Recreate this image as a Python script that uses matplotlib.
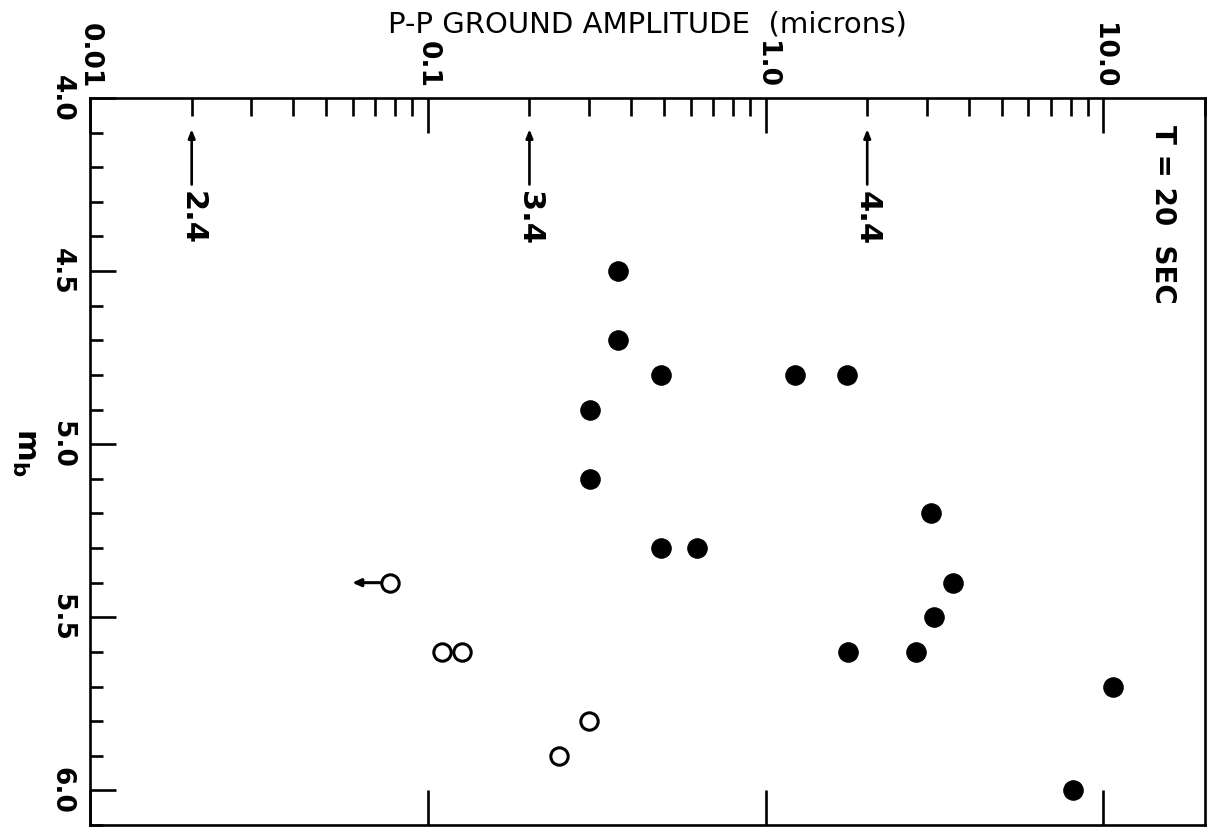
import matplotlib
matplotlib.use("Agg")
import matplotlib.pyplot as plt
from matplotlib.ticker import FixedLocator, LogLocator, MultipleLocator, NullFormatter

# ---- data ----
filled_mb = [4.5, 4.7, 4.8, 4.8, 4.8, 4.9, 5.1, 5.2, 5.3, 5.3, 5.4, 5.5, 5.6, 5.6, 5.7, 6.0]
filled_amp = [0.365, 0.365, 0.49, 1.22, 1.74, 0.303, 0.303, 3.08, 0.49, 0.625, 3.58, 3.15, 1.75, 2.78, 10.7, 8.13]

open_mb = [5.4, 5.6, 5.6, 5.8, 5.9]
open_amp = [0.0774, 0.110, 0.126, 0.301, 0.245]

# upper-limit arrow on the open circle at mb 5.4
limit_mb = 5.4
limit_from = 0.0774
limit_to = 0.0597

# reference arrows along the top axis
ref_amp = [0.02, 0.2, 2.0]
ref_labels = ["2.4", "3.4", "4.4"]

x_ticks = [0.01, 0.1, 1.0, 10.0]
x_ticklabels = ["0.01", "0.1", "1.0", "10.0"]
y_ticks = [4.0, 4.5, 5.0, 5.5, 6.0]
y_ticklabels = ["4.0", "4.5", "5.0", "5.5", "6.0"]

plt.rcParams["font.family"] = ["DejaVu Sans"]
plt.rcParams["mathtext.fontset"] = "dejavusans"

W, H = 1211, 830
fig = plt.figure(figsize=(W / 100, H / 100), dpi=100)
ax = fig.add_axes([90 / W, 5 / H, 1115 / W, 727 / H])

ax.set_xscale("log")
ax.set_xlim(0.01, 20)
ax.set_ylim(6.1, 4.0)

for s in ax.spines.values():
    s.set_linewidth(1.9)
    s.set_color("black")

# points
ax.plot(filled_amp, filled_mb, linestyle="none", marker="o", ms=14,
        mfc="black", mec="black", mew=0.8, zorder=3)
ax.plot(open_amp, open_mb, linestyle="none", marker="o", ms=12.5,
        mfc="white", mec="black", mew=2.2, zorder=3)

# upper limit arrow
ax.annotate("", xy=(limit_to, limit_mb), xytext=(limit_from, limit_mb),
            arrowprops=dict(arrowstyle="-|>,head_length=0.5,head_width=0.22",
                            color="black", lw=2.2, shrinkA=7, shrinkB=0))

# reference arrows with labels
for a, lab in zip(ref_amp, ref_labels):
    ax.annotate("", xy=(a, 4.09), xytext=(a, 4.25),
                arrowprops=dict(arrowstyle="-|>,head_length=0.5,head_width=0.2",
                                color="black", lw=1.9, shrinkA=0, shrinkB=0))
    ax.text(a, 4.268, lab, rotation=270, ha="center", va="top",
            fontsize=22, fontweight="bold", color="black")

ax.text(15.0, 4.078, "T = 20  SEC", rotation=270, ha="center", va="top",
        fontsize=20, fontweight="bold", color="black")

# x axis ticks: top with minor ticks and labels, bottom majors only
ax.xaxis.set_major_locator(FixedLocator(x_ticks))
ax.xaxis.set_minor_locator(LogLocator(base=10, subs=range(2, 10)))
ax.xaxis.set_minor_formatter(NullFormatter())
ax.set_xticks(x_ticks)
ax.set_xticklabels(x_ticklabels, fontweight="bold")
ax.tick_params(axis="x", which="major", direction="in", top=True, bottom=True,
               labeltop=True, labelbottom=False, length=25, width=1.9,
               labelsize=19, pad=7, labelrotation=270)
ax.tick_params(axis="x", which="minor", direction="in", top=True, bottom=False,
               length=13, width=1.9)

# y axis ticks
ax.set_yticks(y_ticks)
ax.set_yticklabels(y_ticklabels, fontweight="bold")
ax.yaxis.set_minor_locator(MultipleLocator(0.1))
ax.tick_params(axis="y", which="major", direction="in", left=True, right=False,
               length=19, width=1.9, labelsize=19, pad=11, labelrotation=270)
ax.tick_params(axis="y", which="minor", direction="in", left=True, right=False,
               length=9.5, width=1.9)
for lab in ax.get_yticklabels():
    lab.set_verticalalignment("center")

fig.text(647 / W, 1 - 25 / H, "P-P GROUND AMPLITUDE  (microns)",
         ha="center", va="center", fontsize=21, color="black")
fig.text(24 / W, 1 - 452 / H, r"$\mathbf{m_b}$", rotation=270,
         ha="center", va="center", fontsize=22, color="black")

fig.savefig("out.png", dpi=100, facecolor="white")
